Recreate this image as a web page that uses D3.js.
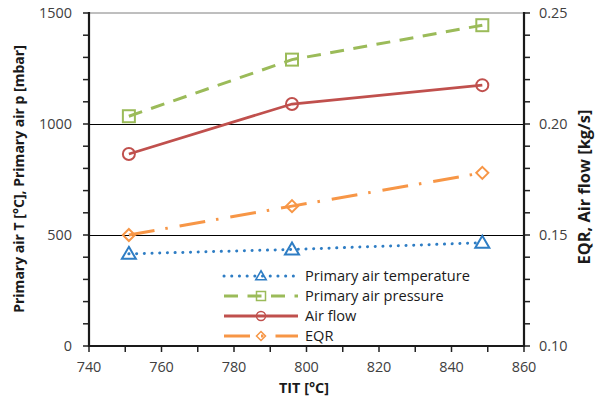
<!DOCTYPE html>
<html>
<head>
<meta charset="utf-8">
<script src="https://cdn.jsdelivr.net/npm/d3@7"></script>
<style>
  body { margin: 0; background: #fff; }
  svg { display: block; font-family: "Open Sans", "Noto Sans", sans-serif; }
</style>
</head>
<body>
<svg id="chart" width="602" height="396"></svg>
<script>
// Turbine inlet temperature (TIT) operating points
const tit = [751, 796, 848.5];
// Left axis series
const primaryAirTemp = [415, 435, 465];        // °C
const primaryAirPressure = [1035, 1290, 1445]; // mbar
// Right axis series
const airFlow = [0.1865, 0.209, 0.2175];       // kg/s
const eqr = [0.150, 0.163, 0.178];

const xTicks = [740, 760, 780, 800, 820, 840, 860];
const yLeftTicks = [0, 500, 1000, 1500];
const yRightTicks = [0.10, 0.15, 0.20, 0.25];

const svg = d3.select("#chart");
const m = { left: 89, right: 524, top: 13, bottom: 346 };

const x = d3.scaleLinear().domain([740, 860]).range([m.left, m.right]);
const yL = d3.scaleLinear().domain([0, 1500]).range([m.bottom, m.top]);
const yR = d3.scaleLinear().domain([0.10, 0.25]).range([m.bottom, m.top]);

const tickColor = "#404040";

// scale a text element's font so its rendered width equals `target`
function fitFont(sel, base, target) {
  sel.attr("font-size", base);
  const w = sel.node().getComputedTextLength();
  const fs = base * target / w;
  sel.attr("font-size", fs);
  return fs;
}

// top border and horizontal gridlines
svg.append("line").attr("x1", m.left).attr("x2", m.right)
  .attr("y1", m.top).attr("y2", m.top).attr("stroke", "#7f7f7f").attr("stroke-width", 1);
svg.append("g").selectAll("line").data([500, 1000]).join("line")
  .attr("x1", m.left).attr("x2", m.right)
  .attr("y1", d => Math.round(yL(d)) + 0.5).attr("y2", d => Math.round(yL(d)) + 0.5)
  .attr("stroke", "#000").attr("stroke-width", 1);

// minor ticks
svg.append("g").selectAll("line").data(d3.range(0, 1501, 100)).join("line")
  .attr("x1", m.left - 6).attr("x2", m.left)
  .attr("y1", d => yL(d)).attr("y2", d => yL(d))
  .attr("stroke", "#222").attr("stroke-width", 1.5);
svg.append("g").selectAll("line").data(d3.range(0.10, 0.2501, 0.01)).join("line")
  .attr("x1", m.right).attr("x2", m.right + 6)
  .attr("y1", d => yR(d)).attr("y2", d => yR(d))
  .attr("stroke", "#222").attr("stroke-width", 1.5);
svg.append("g").selectAll("line").data(d3.range(740, 861, 10)).join("line")
  .attr("x1", d => x(d)).attr("x2", d => x(d))
  .attr("y1", m.bottom).attr("y2", m.bottom + 6)
  .attr("stroke", "#222").attr("stroke-width", 1.5);

// axis lines
svg.append("line").attr("x1", m.left).attr("x2", m.left).attr("y1", m.top - 1).attr("y2", m.bottom + 1)
  .attr("stroke", "#1a1a1a").attr("stroke-width", 2.2);
svg.append("line").attr("x1", m.right).attr("x2", m.right).attr("y1", m.top - 1).attr("y2", m.bottom + 1)
  .attr("stroke", "#1a1a1a").attr("stroke-width", 2.2);
svg.append("line").attr("x1", m.left - 1).attr("x2", m.right + 1).attr("y1", m.bottom).attr("y2", m.bottom)
  .attr("stroke", "#1a1a1a").attr("stroke-width", 2.2);

// tick labels (size taken from the width of "1500")
const probe = svg.append("text").text("1500");
const fs = fitFont(probe, 14, 33);
probe.remove();
svg.append("g").selectAll("text").data(yLeftTicks).join("text")
  .attr("x", m.left - 17).attr("y", d => yL(d)).attr("dy", "0.36em")
  .attr("text-anchor", "end").attr("font-size", fs).attr("fill", tickColor)
  .text(d => d);
svg.append("g").selectAll("text").data(yRightTicks).join("text")
  .attr("x", m.right + 15).attr("y", d => yR(d)).attr("dy", "0.36em")
  .attr("text-anchor", "start").attr("font-size", fs).attr("fill", tickColor)
  .text(d => d.toFixed(2));
svg.append("g").selectAll("text").data(xTicks).join("text")
  .attr("x", d => x(d)).attr("y", 372)
  .attr("text-anchor", "middle").attr("font-size", fs).attr("fill", tickColor)
  .text(d => d);

// axis titles
const xTitle = svg.append("text").attr("x", 304).attr("y", 393).attr("text-anchor", "middle")
  .attr("font-weight", "bold").attr("fill", "#1a1a1a").text("TIT [°C]");
fitFont(xTitle, 13, 50);
const yTitleL = svg.append("text").attr("transform", "translate(24,179) rotate(-90)")
  .attr("text-anchor", "middle").attr("font-weight", "bold").attr("fill", "#1a1a1a")
  .text("Primary air T [°C], Primary air p [mbar]");
fitFont(yTitleL, 13, 268);
const yTitleR = svg.append("text").attr("transform", "translate(590,187) rotate(-90)")
  .attr("text-anchor", "middle").attr("font-weight", "bold").attr("fill", "#1a1a1a")
  .text("EQR, Air flow [kg/s]");
fitFont(yTitleR, 13, 155);

// series definitions
const series = [
  { name: "Primary air temperature", values: primaryAirTemp, y: yL, color: "#2E7DC4",
    dash: "0.1 7.6", cap: "round", width: 3, marker: "triangle" },
  { name: "Primary air pressure", values: primaryAirPressure, y: yL, color: "#9BBB59",
    dash: "14 9.5", cap: "butt", width: 3, marker: "square" },
  { name: "Air flow", values: airFlow, y: yR, color: "#C0504D",
    dash: null, cap: "butt", width: 2.8, marker: "circle" },
  { name: "EQR", values: eqr, y: yR, color: "#F79646",
    dash: "26 11 2.5 12", cap: "butt", width: 3, marker: "diamond" }
];

function drawMarker(g, type, cx, cy, color) {
  const s = 6;
  let el;
  if (type === "triangle") {
    el = g.append("path").attr("d", `M${cx},${cy - s - 1}L${cx + s + 1},${cy + s - 1}L${cx - s - 1},${cy + s - 1}Z`);
  } else if (type === "square") {
    el = g.append("rect").attr("x", cx - s).attr("y", cy - s).attr("width", 2 * s).attr("height", 2 * s);
  } else if (type === "circle") {
    el = g.append("circle").attr("cx", cx).attr("cy", cy).attr("r", s);
  } else {
    el = g.append("path").attr("d", `M${cx},${cy - s}L${cx + s},${cy}L${cx},${cy + s}L${cx - s},${cy}Z`);
  }
  el.attr("fill", "none").attr("stroke", color).attr("stroke-width", 2);
}

const line = yScale => d3.line().x(d => x(d[0])).y(d => yScale(d[1]));

series.forEach(s => {
  const pts = tit.map((t, i) => [t, s.values[i]]);
  const g = svg.append("g");
  g.append("path").datum(pts).attr("d", line(s.y))
    .attr("fill", "none").attr("stroke", s.color).attr("stroke-width", s.width)
    .attr("stroke-linecap", s.cap).attr("stroke-dasharray", s.dash);
  pts.forEach(p => drawMarker(g, s.marker, x(p[0]), s.y(p[1]), s.color));
});

// legend
const legend = svg.append("g");
const legRows = [276, 296, 316, 336];
let legFs = null;
series.forEach((s, i) => {
  const yy = legRows[i];
  legend.append("line").attr("x1", 224).attr("x2", 298).attr("y1", yy).attr("y2", yy)
    .attr("stroke", s.color).attr("stroke-width", s.width)
    .attr("stroke-linecap", s.cap).attr("stroke-dasharray", s.dash);
  const mg = legend.append("g").attr("transform", `translate(261,${yy}) scale(0.75) translate(-261,${-yy})`);
  drawMarker(mg, s.marker, 261, yy, s.color);
  const t = legend.append("text").attr("x", 305).attr("y", yy).attr("dy", "0.36em")
    .attr("fill", "#1a1a1a").text(s.name);
  if (legFs === null) legFs = fitFont(t, 13, 165);
  else t.attr("font-size", legFs);
});
</script>
</body>
</html>
